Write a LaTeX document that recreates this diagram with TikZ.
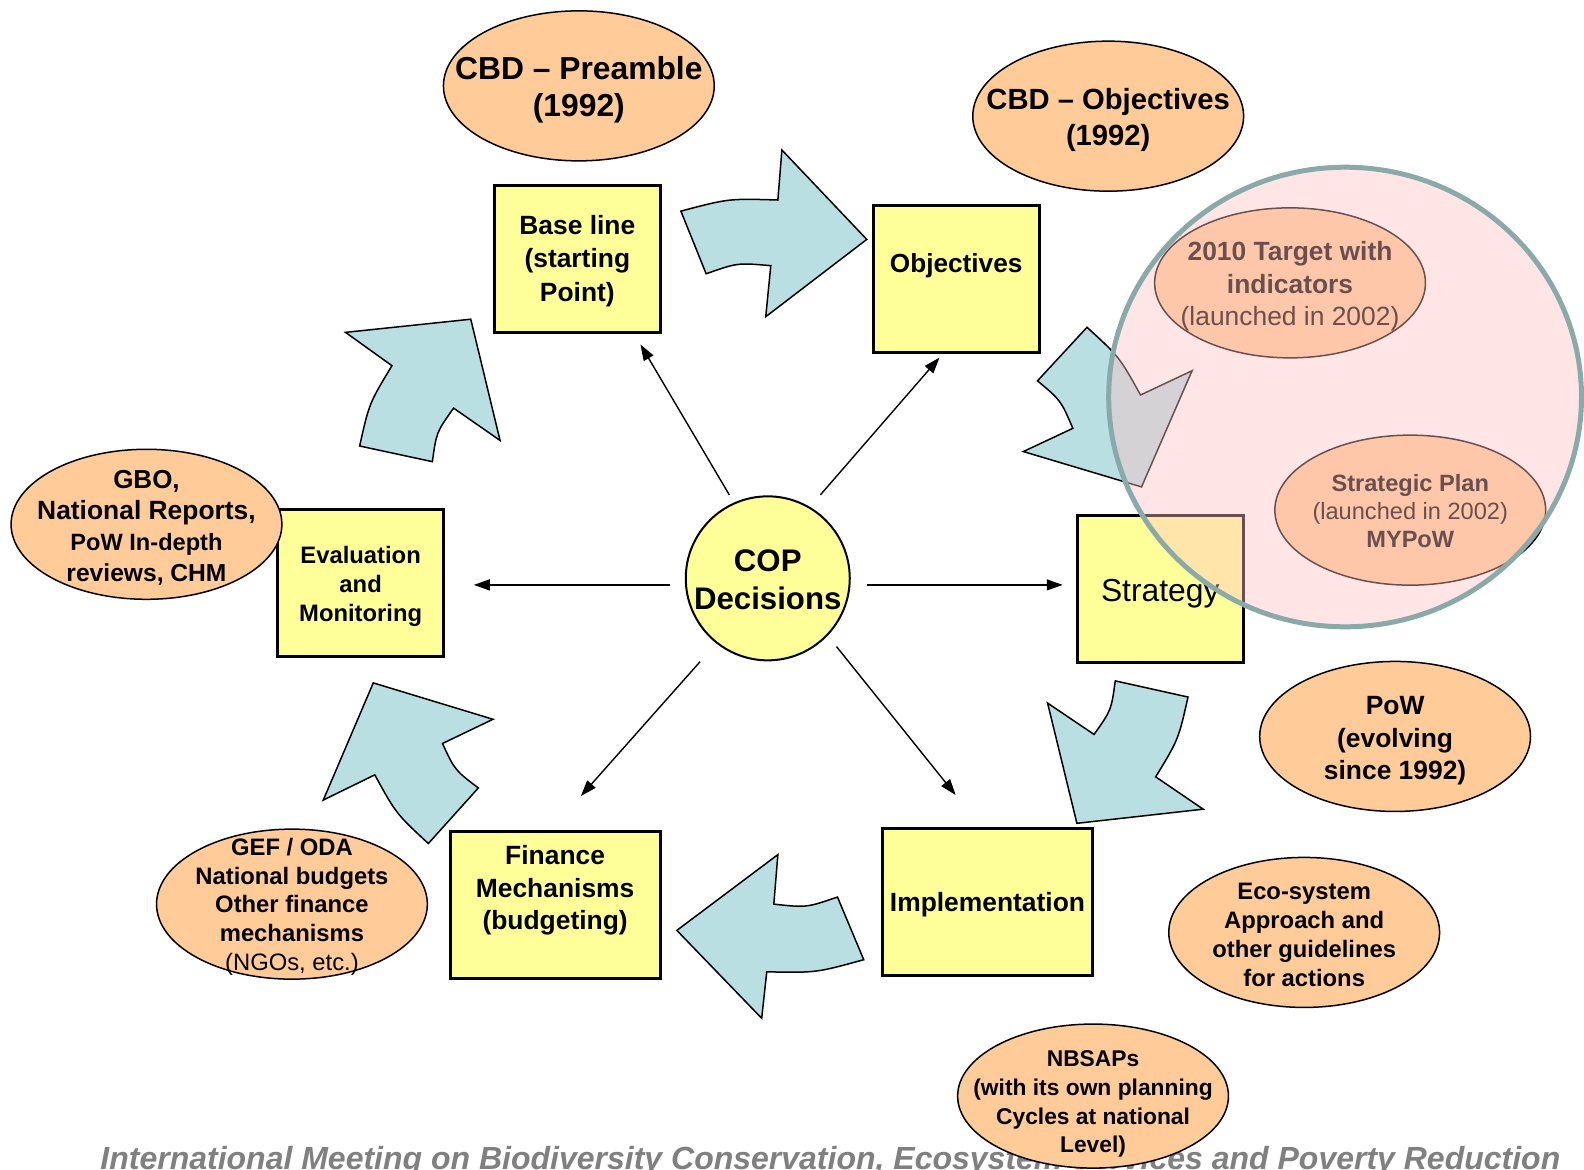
\documentclass[tikz,border=0pt]{standalone}
\usepackage{fontspec}
\setmainfont{Liberation Sans}
\usetikzlibrary{arrows.meta,shapes.geometric}
\definecolor{boxyellow}{HTML}{FFFF99}
\definecolor{orng}{HTML}{FFCC99}
\definecolor{arrblue}{HTML}{B9DFE3}
\definecolor{pinkfill}{RGB}{255,193,195}
\definecolor{ringcol}{RGB}{138,170,170}
\definecolor{footgray}{RGB}{128,128,128}
\newcommand{\fsz}[2]{\fontsize{#1}{#2}\selectfont}
\begin{document}
\begin{tikzpicture}[x=0.5051pt,y=-0.5051pt,
  box/.style={draw=black, line width=1.5pt, fill=boxyellow, inner sep=0pt, align=center,
              minimum width=83pt, minimum height=73.5pt},
  widebox/.style={minimum width=105pt},
  oval/.style={draw=black, line width=0.75pt, fill=orng, ellipse, inner sep=0pt,
               minimum width=135.4pt, minimum height=75pt},
  otext/.style={align=center, inner sep=0pt},
  bigarrow/.style={draw=black, line width=0.75pt, fill=arrblue, line join=miter},
  conn/.style={line width=0.7pt, -{Triangle[length=8pt,width=5.5pt]}},
]
\useasboundingbox (0,0) rectangle (1568,1157.2);
\fill[white] (0,0) rectangle (1568,1157.2);

% footer
\node[anchor=base west, inner sep=0pt, font=\bfseries\itshape\fsz{16}{19}, text=footgray]
  (foot) at (99,1158) {International Meeting on Biodiversity Conservation, Ecosystem Services and Poverty Reduction};

% curved block arrows
\draw[bigarrow] (674,209) .. controls (721.2,196.5) .. (770,198) -- (774,148.5) -- (858,237)
  -- (758,313.5) -- (763,263) .. controls (730.1,260.1) .. (699,271) -- cycle;
\draw[bigarrow] (1076,324) -- (1027,377) .. controls (1050.1,396.3) .. (1062,424) -- (1013,447)
  -- (1130,482) -- (1180,367) -- (1129,391) .. controls (1108,353.2) .. (1076,324) -- cycle;
\draw[bigarrow] (1104,674) -- (1176,690) .. controls (1166.5,732.1) .. (1144,769) -- (1191,801)
  -- (1066,815) -- (1037,696) -- (1083,727) .. controls (1100,703.1) .. (1104,674) -- cycle;
\draw[bigarrow] (670,921) -- (770,846) -- (766,895) .. controls (798.3,898.5) .. (829,888)
  -- (855,950) .. controls (807.9,963) .. (759,962) -- (754,1008) -- cycle;
\draw[bigarrow] (369.5,676) -- (488,712) -- (438,736) .. controls (450.3,762.4) .. (473.5,780)
  -- (424,835) .. controls (392,805.3) .. (371,767) -- (320,792) -- cycle;
\draw[bigarrow] (342,329) -- (466,316) -- (495,436) -- (449,404) .. controls (432,427.9) .. (428,457)
  -- (356,441.5) .. controls (365.5,399.1) .. (388,362) -- cycle;

% boxes
\node[box] (base) at (571.5,256) {};
\node[otext, font=\bfseries\fsz{13.2}{16.7}] (baset) at (571.5,258.5) {Base line\\(starting\\Point)};
\node[box] (obj) at (946.5,276) {};
\node[otext, font=\bfseries\fsz{13.1}{16.2}] (objt) at (946.5,263) {Objectives};
\node[box] (strat) at (1148.5,583.5) {};
\node[otext, font=\fsz{15.9}{19}] (stratt) at (1148.5,588) {Strategy};
\node[box, widebox] (impl) at (977.5,893) {};
\node[otext, font=\bfseries\fsz{13.2}{16.2}] (implt) at (977.5,896) {Implementation};
\node[box, widebox] (fin) at (549.5,896) {};
\node[otext, font=\bfseries\fsz{13.2}{16.2}] (fint) at (549.5,881.5) {Finance\\Mechanisms\\(budgeting)};
\node[box] (eval) at (357,577) {};
\node[otext, font=\bfseries\fsz{11.9}{14.4}] (evalt) at (357,580.5) {Evaluation\\and\\Monitoring};

% COP circle
\node[circle, draw=black, line width=1pt, fill=boxyellow, minimum size=82pt, inner sep=0pt] (cop) at (760,572.5) {};
\node[otext, font=\bfseries\fsz{15.6}{19.2}] (copt) at (760,574) {COP\\Decisions};

% connectors
\coordinate (s1) at (722,490); \coordinate (e1) at (634,341);
\coordinate (s2) at (812,490); \coordinate (e2) at (930,354);
\coordinate (s3) at (858,579); \coordinate (e3) at (1052,579);
\coordinate (s4) at (828,640); \coordinate (e4) at (946,787);
\coordinate (s5) at (693,655); \coordinate (e5) at (575,788);
\coordinate (s6) at (663,579); \coordinate (e6) at (469,579);
\draw[conn] (s1) -- (e1);
\draw[conn] (s2) -- (e2);
\draw[conn] (s3) -- (e3);
\draw[conn] (s4) -- (e4);
\draw[conn] (s5) -- (e5);
\draw[conn] (s6) -- (e6);

% ellipses
\node[oval] (pre) at (573,85) {};
\node[otext, font=\bfseries\fsz{15.9}{18.7}] (pret) at (573,89) {CBD – Preamble\\(1992)};
\node[oval] (cbdobj) at (1097,115) {};
\node[otext, font=\bfseries\fsz{14.6}{18.2}] (cbdobjt) at (1097,119) {CBD – Objectives\\(1992)};
\node[oval] (gbo) at (145,519) {};
\node[otext, font=\bfseries\fsz{13}{15.4}] (gbot) at (145,522.5)
  {GBO,\\{\fsz{13.2}{15.4}National Reports,}\\{\fsz{11.8}{15.4}PoW In-depth}\\{\fsz{12.3}{15.4}reviews, CHM}};
\node[oval] (pow) at (1381,729) {};
\node[otext, font=\bfseries\fsz{13.2}{16.2}] (powt) at (1381,733.5) {PoW\\(evolving\\since 1992)};
\node[oval] (eco) at (1291,923) {};
\node[otext, font=\bfseries\fsz{11.9}{14.5}] (ecot) at (1291,925) {Eco-system\\Approach and\\other guidelines\\for actions};
\node[oval] (gef) at (289,895) {};
\node[otext, font=\bfseries\fsz{11.9}{14.4}] (geft) at (289,897.5)
  {GEF / ODA\\National budgets\\Other finance\\mechanisms\\{\mdseries(NGOs, etc.)}};
\node[oval, minimum height=72pt] (nbsap) at (1082,1085) {};
\node[otext, font=\bfseries\fsz{11.4}{14.3}] (nbsapt) at (1082,1093) {NBSAPs\\(with its own planning\\Cycles at national\\Level)};
\node[oval] (t2010) at (1277,280) {};
\node[otext, font=\bfseries\fsz{13.2}{16.2}] (t2010t) at (1277,283.5) {2010 Target with\\indicators\\{\mdseries(launched in 2002)}};
\node[oval] (sp) at (1396,505) {};
\node[otext, font=\bfseries\fsz{11.8}{14.1}] (spt) at (1396,506) {Strategic Plan\\{\mdseries(launched in 2002)}\\MYPoW};

% translucent ring on top
\node[ellipse, draw=ringcol, line width=2.5pt, fill=pinkfill, fill opacity=0.41,
      minimum width=236.4pt, minimum height=229.8pt, inner sep=0pt] (ring) at (1331.5,393) {};
\end{tikzpicture}
\end{document}
